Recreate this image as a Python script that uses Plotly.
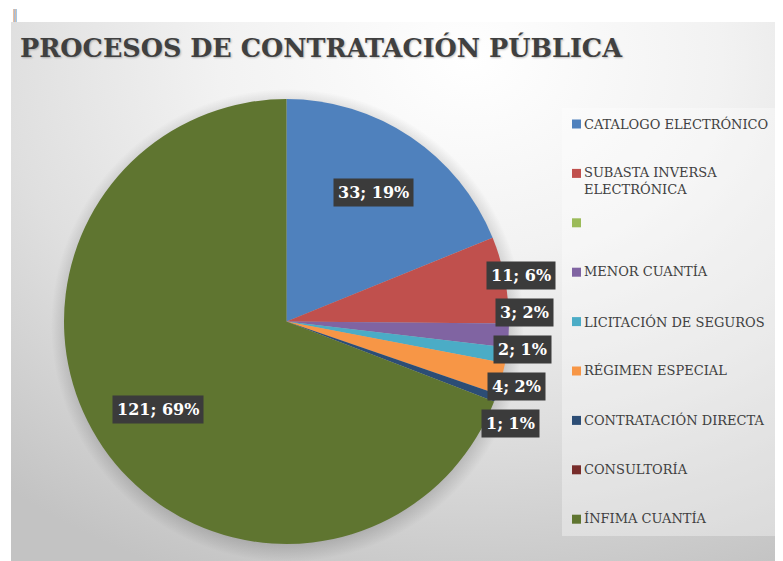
import math
import textwrap
import plotly.graph_objects as go

# ---------------- data ----------------
categories = ["CATALOGO ELECTRÓNICO", "SUBASTA INVERSA ELECTRÓNICA", "", "MENOR CUANTÍA",
              "LICITACIÓN DE SEGUROS", "RÉGIMEN ESPECIAL", "CONTRATACIÓN DIRECTA",
              "CONSULTORÍA", "ÍNFIMA CUANTÍA"]
values = [33, 11, 0, 3, 2, 4, 1, 0, 121]
colors = ["#4F81BD", "#C0504D", "#9BBB59", "#8064A2", "#4BACC6", "#F79646",
          "#2C4D75", "#772C2A", "#5F7530"]
title_text = "PROCESOS DE CONTRATACIÓN PÚBLICA"

# ---------------- layout geometry (page pixels) ----------------
PAGE_W, PAGE_H = 783, 561
OX, OY = 8, 8                      # default page body margin
W, H = PAGE_W - OX, PAGE_H - OY    # figure size
cx, cy, r = 286.5, 321.5, 222.5
SERIF = "DejaVu Serif"


def px(x):
    return (x - OX) / W


def py(y):
    return 1 - (y - OY) / H


fig = go.Figure()

# background gradient (chart area)
bg_cx, bg_cy, bg_hw, bg_hh = 470, 60, 720, 560
fig.add_trace(go.Scatter(
    x=[bg_cx - bg_hw, bg_cx + bg_hw, bg_cx + bg_hw, bg_cx - bg_hw, bg_cx - bg_hw],
    y=[bg_cy - bg_hh, bg_cy - bg_hh, bg_cy + bg_hh, bg_cy + bg_hh, bg_cy - bg_hh],
    mode="none", fill="toself",
    fillgradient=dict(type="radial",
                      colorscale=[[0, "#ffffff"], [0.35, "#f2f2f2"], [0.65, "#dfdfdf"], [1, "#c3c3c3"]]),
    hoverinfo="skip", showlegend=False))

# soft shadow around pie
n = 120
ts = [2 * math.pi * i / n for i in range(n + 1)]
rs = r + 14
fig.add_trace(go.Scatter(
    x=[cx + 1 + rs * math.cos(t) for t in ts],
    y=[cy + 4 + rs * math.sin(t) for t in ts],
    mode="none", fill="toself",
    fillgradient=dict(type="radial",
                      colorscale=[[0, "rgba(0,0,0,0.25)"], [0.92, "rgba(0,0,0,0.16)"], [1, "rgba(0,0,0,0)"]]),
    hoverinfo="skip", showlegend=False))

# pie
fig.add_trace(go.Pie(
    labels=[c if c else " " for c in categories], values=values,
    marker=dict(colors=colors, line=dict(width=0)),
    sort=False, direction="clockwise", rotation=0,
    textinfo="none", showlegend=False,
    domain=dict(x=[px(cx - r), px(cx + r)], y=[py(cy + r), py(cy - r)]),
))

annotations = []
shapes = []

# data labels computed from values
total = sum(values)
cum = 0
inside, outside = [], []
for v in values:
    if v == 0:
        continue
    th = (cum + v / 2) / total * 2 * math.pi
    cum += v
    pct = round(v / total * 100)
    txt = f"{v}; {pct}%"
    if v / total > 0.1:
        inside.append((cx + 0.7 * r * math.sin(th), cy - 0.7 * r * math.cos(th), txt))
    else:
        outside.append([cx + (r + 16) * math.sin(th), cy - r * math.cos(th), txt])

gap = 37
for _ in range(400):
    for i in range(len(outside) - 1):
        d = outside[i + 1][1] - outside[i][1]
        if d < gap:
            s = (gap - d) / 2
            outside[i][1] -= s
            outside[i + 1][1] += s

for x, y, txt in inside + [tuple(o) for o in outside]:
    annotations.append(dict(
        x=px(x), y=py(y), xref="paper", yref="paper", text=txt, showarrow=False,
        font=dict(family=SERIF, size=16, color="white", weight="bold"),
        bgcolor="#3b3b3b", borderpad=4, xanchor="center", yanchor="middle"))

# legend box
shapes.append(dict(type="rect", xref="paper", yref="paper",
                   x0=px(562), x1=px(783), y0=py(536), y1=py(108),
                   fillcolor="rgba(255,255,255,0.35)", line=dict(width=0), layer="above"))

item_y0, item_step, line_h = 124, 49.4, 18.2
for i, (lab, col) in enumerate(zip(categories, colors)):
    yc = item_y0 + i * item_step
    shapes.append(dict(type="rect", xref="paper", yref="paper",
                       x0=px(572), x1=px(581), y0=py(yc + 4.5), y1=py(yc - 4.5),
                       fillcolor=col, line=dict(width=0), layer="above"))
    if lab:
        annotations.append(dict(
            x=px(583), y=py(yc - line_h / 2), xref="paper", yref="paper",
            text="<br>".join(textwrap.wrap(lab, 22)), showarrow=False, align="left",
            font=dict(family=SERIF, size=13, color="#404040"),
            xanchor="left", yanchor="top", borderpad=0))

# small mark at top-left
annotations.append(dict(x=px(15), y=py(15), xref="paper", yref="paper", text="‖",
                        showarrow=False, font=dict(family=SERIF, size=12, color="#888888"),
                        xanchor="center", yanchor="middle"))

fig.update_layout(
    width=W, height=H,
    margin=dict(l=0, r=0, t=0, b=0),
    paper_bgcolor="white", plot_bgcolor="rgba(0,0,0,0)",
    xaxis=dict(range=[11, PAGE_W], domain=[px(11), 1], visible=False, fixedrange=True),
    yaxis=dict(range=[PAGE_H, 22], domain=[0, py(22)], visible=False, fixedrange=True),
    title=dict(text=title_text, x=px(20), xanchor="left", y=py(48), yanchor="middle",
               font=dict(family=SERIF, size=25.5, color="#404040", weight="bold",
                         shadow="1px 1px 2px rgba(0,0,0,0.25)")),
    annotations=annotations, shapes=shapes,
    showlegend=False,
)

fig.write_html("out.html")
